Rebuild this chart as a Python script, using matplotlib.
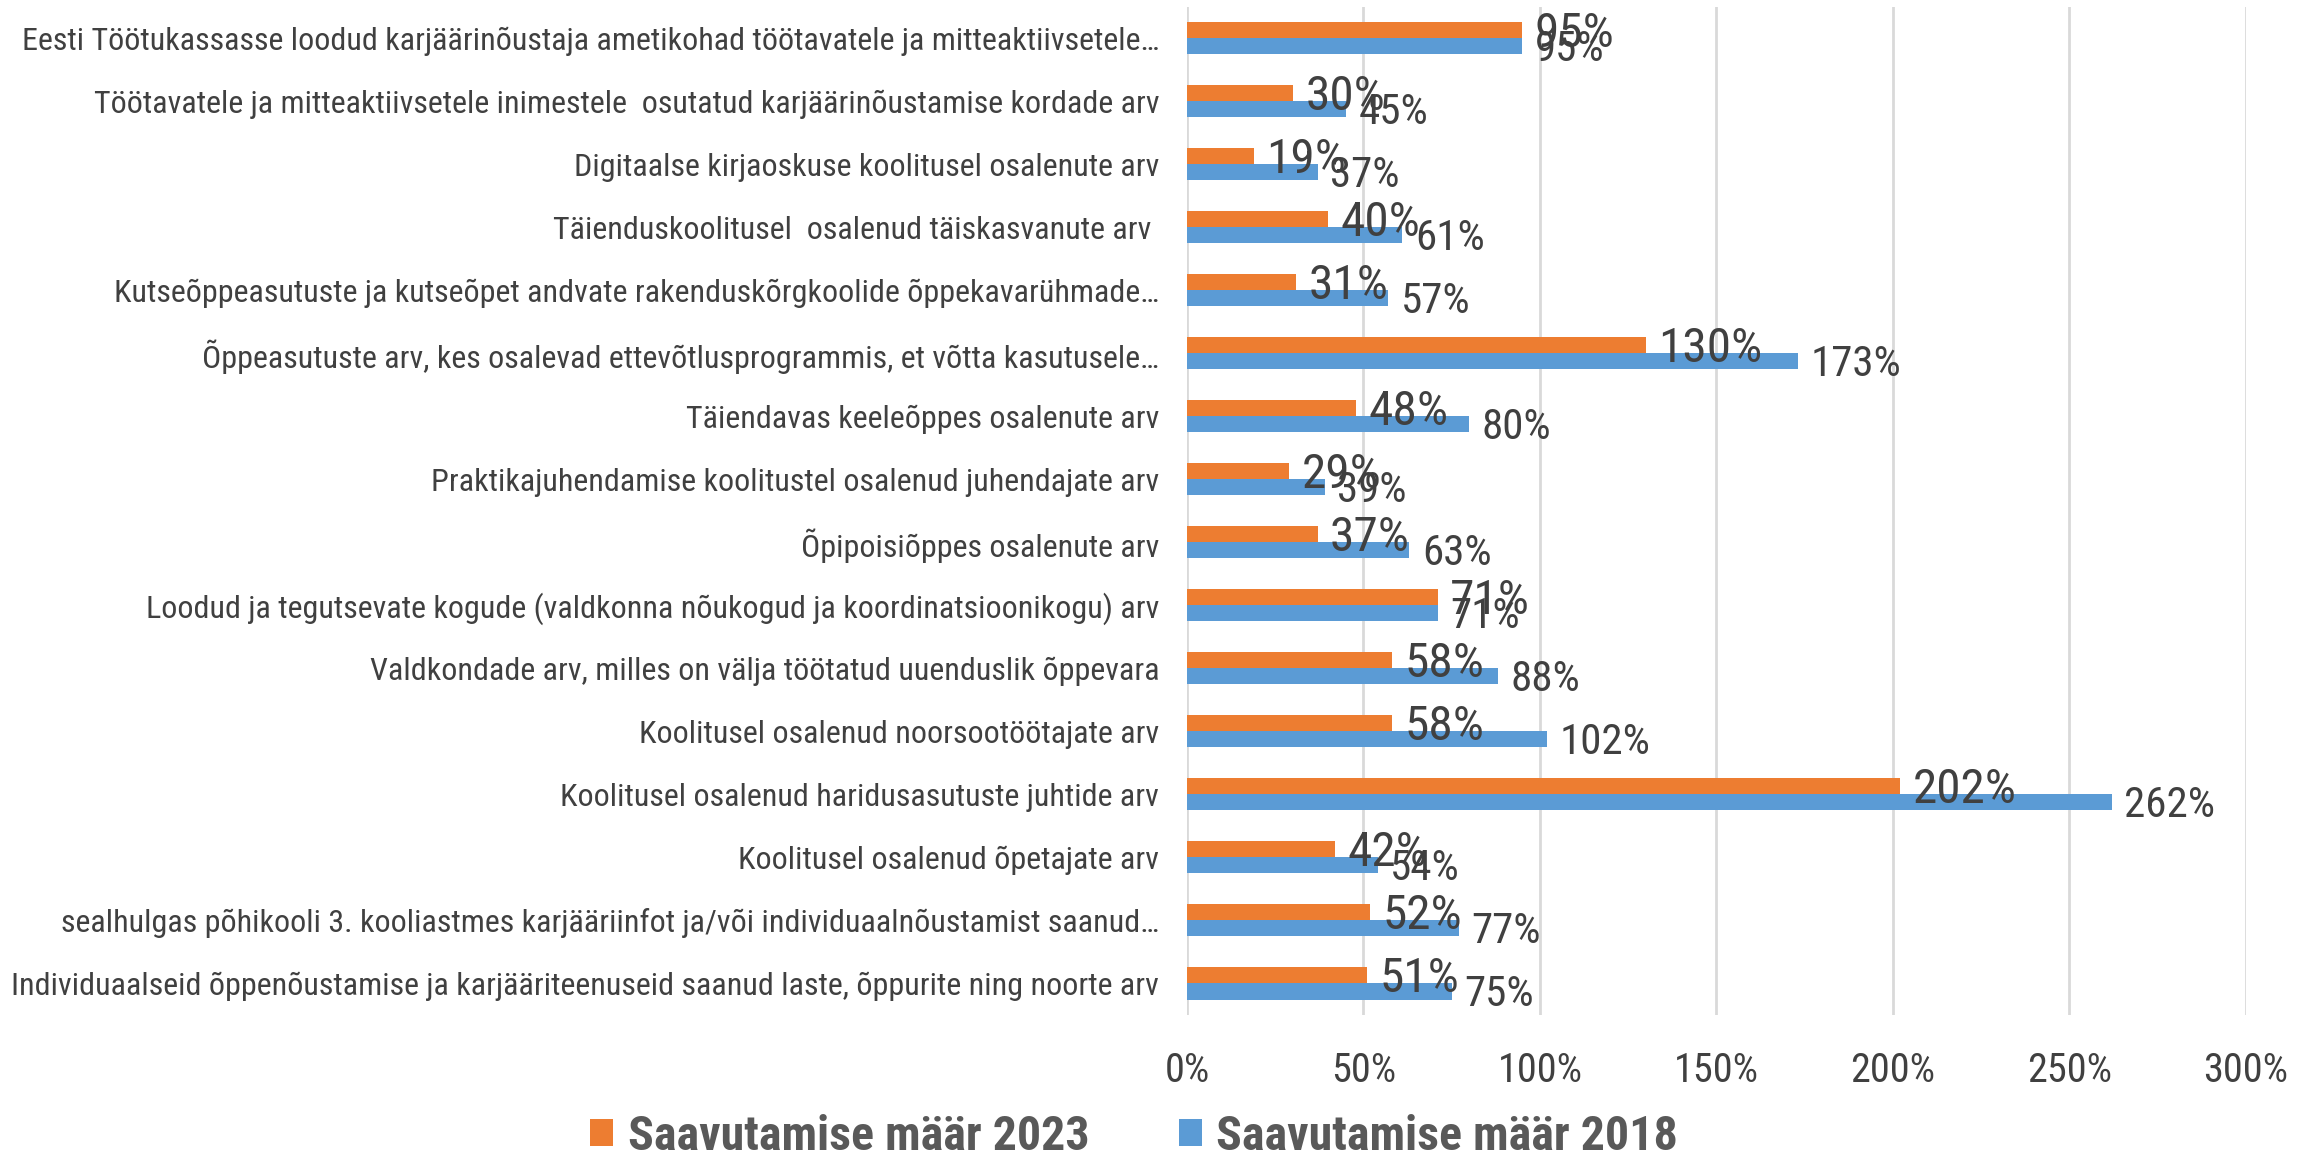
import matplotlib
matplotlib.use("Agg")
import matplotlib.pyplot as plt
import numpy as np
from matplotlib import font_manager as fm
from matplotlib.ticker import FuncFormatter

categories = [
    "Eesti Töötukassasse loodud karjäärinõustaja ametikohad töötavatele ja mitteaktiivsetele…",
    "Töötavatele ja mitteaktiivsetele inimestele  osutatud karjäärinõustamise kordade arv",
    "Digitaalse kirjaoskuse koolitusel osalenute arv",
    "Täienduskoolitusel  osalenud täiskasvanute arv ",
    "Kutseõppeasutuste ja kutseõpet andvate rakenduskõrgkoolide õppekavarühmade…",
    "Õppeasutuste arv, kes osalevad ettevõtlusprogrammis, et võtta kasutusele…",
    "Täiendavas keeleõppes osalenute arv",
    "Praktikajuhendamise koolitustel osalenud juhendajate arv",
    "Õpipoisiõppes osalenute arv",
    "Loodud ja tegutsevate kogude (valdkonna nõukogud ja koordinatsioonikogu) arv",
    "Valdkondade arv, milles on välja töötatud uuenduslik õppevara",
    "Koolitusel osalenud noorsootöötajate arv",
    "Koolitusel osalenud haridusasutuste juhtide arv",
    "Koolitusel osalenud õpetajate arv",
    "sealhulgas põhikooli 3. kooliastmes karjääriinfot ja/või individuaalnõustamist saanud…",
    "Individuaalseid õppenõustamise ja karjääriteenuseid saanud laste, õppurite ning noorte arv",
]
rate_2023 = [95, 30, 19, 40, 31, 130, 48, 29, 37, 71, 58, 58, 202, 42, 52, 51]
rate_2018 = [95, 45, 37, 61, 57, 173, 80, 39, 63, 71, 88, 102, 262, 54, 77, 75]
series_names = ["Saavutamise määr 2023", "Saavutamise määr 2018"]
x_ticks = [0, 50, 100, 150, 200, 250, 300]

available = {f.name for f in fm.fontManager.ttflist}
MAIN = next((n for n in ["Roboto Condensed", "IBM Plex Sans Condensed",
                         "Liberation Sans Narrow", "DejaVu Sans"] if n in available))
FONT = [MAIN, "DejaVu Sans"]
plt.rcParams["font.family"] = FONT

ORANGE = "#ED7D31"
BLUE = "#5B9BD5"
TXT = "#404040"

fig = plt.figure(figsize=(23.07, 11.60), dpi=100)
ax = fig.add_axes([0.5145, 0.125, 0.459, 0.869])

y = np.arange(len(categories))
h = 0.254
b1 = ax.barh(y - h / 2, rate_2023, height=h, color=ORANGE, label=series_names[0], zorder=3)
b2 = ax.barh(y + h / 2, rate_2018, height=h, color=BLUE, label=series_names[1], zorder=3)

for rect, v in zip(b1, rate_2023):
    ax.annotate(f"{v}%", (rect.get_width(), rect.get_y() + rect.get_height() / 2),
                xytext=(9, -2.5), textcoords="offset points", va="center", ha="left",
                fontsize=35.5, color=TXT, zorder=5)
for rect, v in zip(b2, rate_2018):
    ax.annotate(f"{v}%", (rect.get_width(), rect.get_y() + rect.get_height() / 2),
                xytext=(9, -2.5), textcoords="offset points", va="center", ha="left",
                fontsize=31, color=TXT, zorder=5)

ax.set_ylim(len(categories) - 0.5, -0.5)
ax.set_xlim(0, 300)
ax.set_xticks(x_ticks)
ax.xaxis.set_major_formatter(FuncFormatter(lambda v, p: f"{v:.0f}%"))
ax.set_yticks(y)
ax.set_yticklabels(categories)
ax.tick_params(axis="y", length=0, pad=20, labelsize=23, labelcolor=TXT)
ax.tick_params(axis="x", length=0, pad=26, labelsize=29, labelcolor=TXT)
ax.grid(axis="x", color="#D9D9D9", linewidth=2, zorder=0)
for s in ax.spines.values():
    s.set_visible(False)

leg = fig.legend(handles=[b1, b2], labels=series_names, loc="center",
                 bbox_to_anchor=(0.4916, 0.02), ncol=2, frameon=False,
                 prop={"family": FONT, "weight": "bold", "size": 34.5},
                 handlelength=0.48, handleheight=0.48, handletextpad=0.3,
                 columnspacing=1.87, borderaxespad=0)
for t in leg.get_texts():
    t.set_color("#595959")

fig.savefig("out.png", dpi=100)
